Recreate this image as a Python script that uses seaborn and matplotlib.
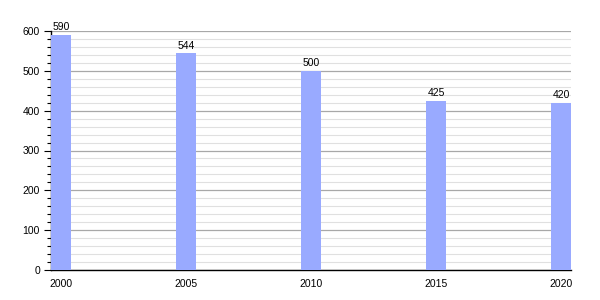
import matplotlib
matplotlib.use("Agg")
import matplotlib.pyplot as plt
import seaborn as sns
import pandas as pd
from matplotlib.ticker import MultipleLocator

years = [2000, 2005, 2010, 2015, 2020]
values = [590, 544, 500, 425, 420]

sns.set_style("white")
plt.rcParams['font.family'] = ['Liberation Sans', 'DejaVu Sans']
plt.rcParams['text.color'] = 'black'
plt.rcParams['xtick.color'] = 'black'
plt.rcParams['ytick.color'] = 'black'

fig = plt.figure(figsize=(6, 3), dpi=100)
ax = fig.add_axes([51/600, 30/300, 520/600, 239/300])

df = pd.DataFrame({"year": years, "value": values})
sns.barplot(data=df, x="year", y="value", native_scale=True, width=0.16,
            color="#99aaff", saturation=1, ax=ax, zorder=3, edgecolor="none")

ax.set_xlim(1999.6, 2020.4)
ax.set_ylim(0, 600)
ax.set_xticks(years)
ax.set_xticklabels([str(y) for y in years])
ax.yaxis.set_major_locator(MultipleLocator(100))
ax.yaxis.set_minor_locator(MultipleLocator(20))
ax.grid(which="major", axis="y", color="#a8a8a8", linewidth=0.9, zorder=0)
ax.grid(which="minor", axis="y", color="#e0e0e0", linewidth=0.8, zorder=0)
ax.set_axisbelow(True)
ax.set_xlabel("")
ax.set_ylabel("")

for s in ["top", "right"]:
    ax.spines[s].set_visible(False)
for s in ["left", "bottom"]:
    ax.spines[s].set_color("black")
    ax.spines[s].set_linewidth(1)

ax.tick_params(axis="y", which="major", left=True, length=5, width=0.8,
               labelsize=7.5, pad=3, colors="black")
ax.tick_params(axis="y", which="minor", left=True, length=3, width=0.8, colors="black")
ax.tick_params(axis="x", which="major", bottom=False, labelsize=7.5, pad=3,
               labelcolor="black")

for y, v in zip(years, values):
    ax.annotate(str(v), (y, v), xytext=(0, 2), textcoords="offset points",
                ha="center", va="bottom", fontsize=7.5, color="black")

fig.savefig("out.png", dpi=100)
